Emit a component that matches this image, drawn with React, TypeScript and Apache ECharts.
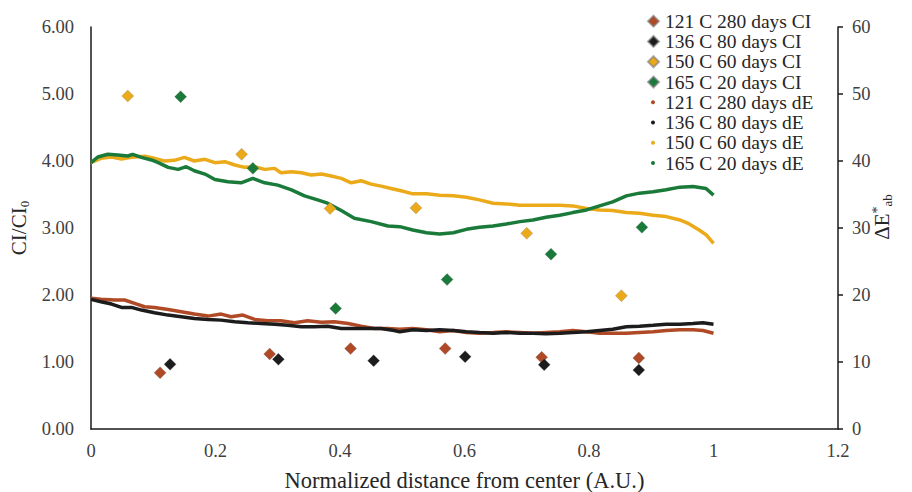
import React, { useEffect, useRef } from "react";
import * as echarts from "echarts";

// Colour index (CI/CI0) at sampled radial positions, per ageing condition
const ci121x = [0.111, 0.287, 0.417, 0.569, 0.724, 0.88];
const ci121y = [0.84, 1.12, 1.2, 1.2, 1.07, 1.06];
const ci136x = [0.127, 0.301, 0.454, 0.601, 0.728, 0.88];
const ci136y = [0.965, 1.04, 1.02, 1.08, 0.96, 0.88];
const ci150x = [0.059, 0.242, 0.384, 0.522, 0.7, 0.852];
const ci150y = [4.97, 4.1, 3.29, 3.3, 2.92, 1.99];
const ci165x = [0.144, 0.26, 0.393, 0.572, 0.739, 0.885];
const ci165y = [4.96, 3.89, 1.8, 2.23, 2.61, 3.01];

// Colour difference profiles (ΔE*ab) across the normalized radius
const de121x = [0, 0.016, 0.038, 0.054, 0.07, 0.086, 0.102, 0.124, 0.145, 0.166, 0.188, 0.209, 0.225, 0.244, 0.263, 0.284, 0.305, 0.327, 0.348, 0.37, 0.391, 0.413, 0.434, 0.455, 0.477, 0.496, 0.517, 0.539, 0.56, 0.582, 0.603, 0.624, 0.646, 0.667, 0.689, 0.71, 0.731, 0.753, 0.774, 0.796, 0.817, 0.838, 0.86, 0.881, 0.903, 0.924, 0.946, 0.967, 0.983, 1.0];
const de121y = [19.5, 19.35, 19.25, 19.25, 18.75, 18.25, 18.15, 17.85, 17.5, 17.15, 16.85, 17.15, 16.75, 17.0, 16.35, 16.15, 16.15, 15.85, 16.15, 15.95, 16.0, 15.75, 15.35, 15.0, 15.0, 14.9, 15.0, 14.8, 14.5, 14.7, 14.4, 14.3, 14.4, 14.5, 14.4, 14.3, 14.4, 14.5, 14.7, 14.5, 14.3, 14.3, 14.3, 14.4, 14.5, 14.7, 14.8, 14.8, 14.7, 14.3];

const de136x = [0, 0.016, 0.033, 0.049, 0.065, 0.081, 0.102, 0.124, 0.145, 0.166, 0.188, 0.209, 0.231, 0.252, 0.273, 0.295, 0.316, 0.338, 0.359, 0.38, 0.402, 0.423, 0.445, 0.466, 0.487, 0.496, 0.517, 0.539, 0.56, 0.582, 0.603, 0.624, 0.646, 0.667, 0.689, 0.71, 0.731, 0.753, 0.774, 0.796, 0.817, 0.838, 0.86, 0.881, 0.903, 0.924, 0.946, 0.967, 0.983, 1.0];
const de136y = [19.35, 19.0, 18.65, 18.15, 18.15, 17.75, 17.35, 17.0, 16.75, 16.5, 16.35, 16.25, 16.0, 15.85, 15.75, 15.65, 15.5, 15.25, 15.25, 15.35, 15.0, 15.0, 15.0, 15.0, 14.7, 14.5, 14.8, 14.7, 14.8, 14.7, 14.5, 14.4, 14.3, 14.4, 14.3, 14.3, 14.2, 14.3, 14.4, 14.5, 14.7, 14.9, 15.25, 15.35, 15.5, 15.65, 15.65, 15.75, 15.85, 15.65];

const de150x = [0, 0.016, 0.033, 0.049, 0.065, 0.086, 0.102, 0.118, 0.134, 0.15, 0.166, 0.183, 0.199, 0.215, 0.231, 0.247, 0.263, 0.279, 0.295, 0.305, 0.322, 0.338, 0.354, 0.37, 0.386, 0.402, 0.418, 0.434, 0.45, 0.466, 0.482, 0.498, 0.517, 0.539, 0.56, 0.582, 0.603, 0.624, 0.646, 0.667, 0.689, 0.71, 0.731, 0.753, 0.774, 0.796, 0.817, 0.838, 0.86, 0.881, 0.903, 0.924, 0.946, 0.961, 0.977, 0.988, 1.0];
const de150y = [39.75, 40.4, 40.6, 40.3, 40.55, 40.7, 40.4, 40.0, 40.1, 40.55, 40.0, 40.25, 39.75, 39.9, 39.4, 39.05, 39.15, 38.75, 38.9, 38.25, 38.4, 38.25, 37.9, 38.05, 37.75, 37.4, 36.75, 37.05, 36.55, 36.25, 35.9, 35.55, 35.1, 35.1, 34.9, 34.8, 34.6, 34.2, 33.7, 33.6, 33.4, 33.4, 33.4, 33.4, 33.3, 32.9, 32.7, 32.6, 32.3, 32.2, 31.9, 31.7, 31.2, 30.6, 29.7, 29.0, 27.7];

const de165x = [0, 0.011, 0.027, 0.043, 0.059, 0.067, 0.081, 0.097, 0.108, 0.124, 0.14, 0.153, 0.166, 0.183, 0.199, 0.22, 0.241, 0.26, 0.279, 0.3, 0.322, 0.343, 0.364, 0.38, 0.402, 0.423, 0.45, 0.477, 0.496, 0.517, 0.539, 0.56, 0.582, 0.603, 0.624, 0.646, 0.667, 0.689, 0.71, 0.731, 0.753, 0.774, 0.796, 0.817, 0.838, 0.86, 0.881, 0.903, 0.924, 0.946, 0.967, 0.988, 1.0];
const de165y = [39.75, 40.6, 41.0, 40.9, 40.75, 41.0, 40.55, 40.15, 39.75, 39.05, 38.75, 39.15, 38.55, 38.05, 37.25, 36.9, 36.75, 37.4, 36.75, 36.4, 35.7, 34.8, 34.2, 33.7, 32.6, 31.45, 30.95, 30.3, 30.2, 29.7, 29.3, 29.1, 29.3, 29.8, 30.1, 30.3, 30.6, 30.95, 31.2, 31.6, 31.9, 32.3, 32.7, 33.3, 33.9, 34.8, 35.2, 35.4, 35.7, 36.1, 36.2, 35.9, 34.9];

const ciNames = ["121 C 280 days CI", "136 C 80 days CI", "150 C 60 days CI", "165 C 20 days CI"];
const deNames = ["121 C 280 days dE", "136 C 80 days dE", "150 C 60 days dE", "165 C 20 days dE"];
const colors = ["#B04A26", "#1C1C1C", "#EBAA1A", "#1A7A3A"];

const pairs = (xs: number[], ys: number[]) => xs.map((x, i) => [x, ys[i]]);

const FONT = "'Liberation Serif', 'DejaVu Serif', serif";

export default function App() {
  const ref = useRef<HTMLDivElement>(null);

  useEffect(() => {
    if (!ref.current) return;
    const chart = echarts.init(ref.current, undefined, { renderer: "svg" });

    const ciSets = [
      pairs(ci121x, ci121y),
      pairs(ci136x, ci136y),
      pairs(ci150x, ci150y),
      pairs(ci165x, ci165y),
    ];
    const deSets = [
      pairs(de121x, de121y),
      pairs(de136x, de136y),
      pairs(de150x, de150y),
      pairs(de165x, de165y),
    ];

    const lineSeries = deSets.map((d, i) => ({
      name: deNames[i],
      type: "line",
      xAxisIndex: 0,
      yAxisIndex: 1,
      data: d,
      showSymbol: false,
      symbol: "circle",
      z: 2,
      itemStyle: { color: colors[i], opacity: 1 },
      lineStyle: { color: colors[i], width: 3.5 },
    }));

    const scatterSeries = ciSets.map((d, i) => ({
      name: ciNames[i],
      type: "scatter",
      xAxisIndex: 0,
      yAxisIndex: 0,
      data: d,
      symbol: "diamond",
      symbolSize: 12,
      z: 3,
      itemStyle: { color: colors[i], opacity: 1, borderColor: "rgba(120,120,120,0.6)", borderWidth: 0.5 },
    }));

    const axisText = { fontFamily: FONT, fontSize: 18.5, color: "#404040" };
    const legendText = { fontFamily: FONT, fontSize: 19.5, color: "#262626", lineHeight: 20.3 };

    chart.setOption({
      animation: false,
      textStyle: { fontFamily: FONT },
      grid: { left: 91, right: 74, top: 27, bottom: 63, containLabel: false, outerBoundsMode: "none" },
      legend: [
        {
          orient: "vertical",
          left: 642,
          top: 6,
          itemWidth: 11,
          itemHeight: 11,
          itemGap: 0,
          textStyle: { ...legendText, padding: [0, 0, 0, 1] },
          data: ciNames.map((n) => ({ name: n, icon: "diamond" })),
        },
        {
          orient: "vertical",
          left: 646,
          top: 87,
          itemWidth: 4,
          itemHeight: 4,
          itemGap: 0,
          textStyle: { ...legendText, padding: [0, 0, 0, 5] },
          data: deNames.map((n) => ({ name: n, icon: "circle" })),
        },
      ],
      xAxis: {
        type: "value",
        min: 0,
        max: 1.2,
        interval: 0.2,
        name: "Normalized distance from center (A.U.)",
        nameLocation: "middle",
        nameGap: 40,
        nameTextStyle: { fontFamily: FONT, fontSize: 22.5, color: "#262626" },
        axisLine: { show: true, lineStyle: { color: "#1a1a1a", width: 1.5 } },
        axisTick: { show: false },
        splitLine: { show: false },
        axisLabel: {
          ...axisText,
          margin: 12,
          formatter: (v: number) => String(Math.round(v * 10) / 10),
        },
      },
      yAxis: [
        {
          type: "value",
          min: 0,
          max: 6,
          interval: 1,
          position: "left",
          name: "{a|CI/CI}{s|0}",
          nameLocation: "middle",
          nameRotate: 90,
          nameGap: 60,
          nameTextStyle: {
            rich: {
              a: { fontFamily: FONT, fontSize: 21, color: "#262626", verticalAlign: "middle" },
              s: { fontFamily: FONT, fontSize: 13, color: "#262626", verticalAlign: "bottom", padding: [10, 0, 0, 0] },
            },
          },
          axisLine: { show: true, lineStyle: { color: "#1a1a1a", width: 1.5 } },
          axisTick: { show: false },
          splitLine: { show: false },
          axisLabel: { ...axisText, margin: 17, formatter: (v: number) => v.toFixed(2) },
        },
        {
          type: "value",
          min: 0,
          max: 60,
          interval: 10,
          position: "right",
          name: "{a|ΔE}{p|*}{s|ab}",
          nameLocation: "middle",
          nameRotate: 90,
          nameGap: 32,
          nameMoveOverlap: false,
          nameTextStyle: {
            padding: [0, 0, 0, 22],
            rich: {
              a: { fontFamily: FONT, fontSize: 21, color: "#262626", lineHeight: 24, verticalAlign: "middle" },
              p: { fontFamily: FONT, fontSize: 14, color: "#262626", lineHeight: 24, verticalAlign: "top" },
              s: { fontFamily: FONT, fontSize: 13, color: "#262626", lineHeight: 24, verticalAlign: "bottom" },
            },
          },
          axisLine: { show: true, lineStyle: { color: "#1a1a1a", width: 1.5 } },
          axisTick: { show: true, inside: false, length: 5, lineStyle: { color: "#1a1a1a", width: 1.5 } },
          splitLine: { show: false },
          axisLabel: { ...axisText, margin: 14 },
        },
      ],
      series: [...lineSeries, ...scatterSeries],
    });

    return () => chart.dispose();
  }, []);

  return (
    <div
      ref={ref}
      style={{ position: "absolute", left: 0, top: 0, width: 912, height: 492 }}
    />
  );
}
